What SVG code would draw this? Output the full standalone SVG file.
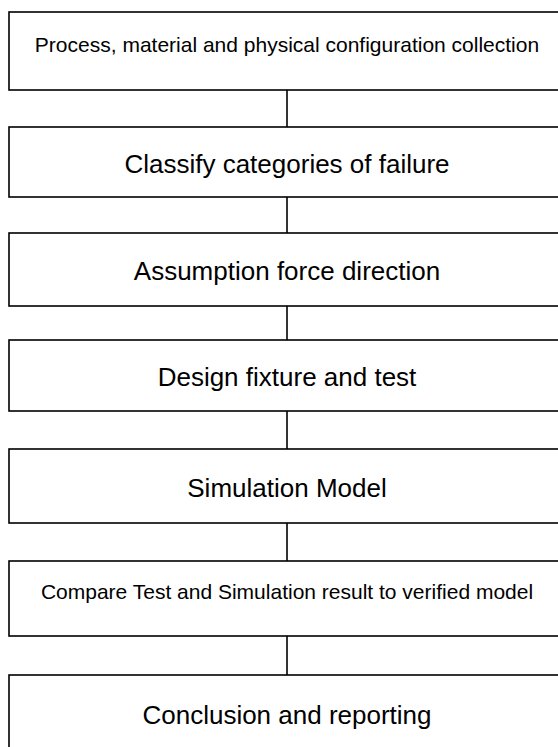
<svg xmlns="http://www.w3.org/2000/svg" width="558" height="747" viewBox="0 0 558 747">
<style>
.box{fill:#fff;stroke:#000;stroke-width:1.6}
.t{font-family:"Liberation Sans",Arial,sans-serif;fill:#000;text-anchor:middle}
.s{font-size:21px}
.l{font-size:26px}
.c{stroke:#000;stroke-width:1.6;fill:none}
</style>
<rect width="558" height="747" fill="#fff"/>
<g id="connectors">
<line class="c" x1="287" y1="90" x2="287" y2="127"/>
<line class="c" x1="287" y1="197" x2="287" y2="233"/>
<line class="c" x1="287" y1="306" x2="287" y2="340"/>
<line class="c" x1="287" y1="411" x2="287" y2="449"/>
<line class="c" x1="287" y1="523" x2="287" y2="561"/>
<line class="c" x1="287" y1="636" x2="287" y2="675"/>
</g>
<g id="n1"><rect class="box" x="9" y="12" width="560" height="78"/><text class="t s" x="287" y="52">Process, material and physical configuration collection</text></g>
<g id="n2"><rect class="box" x="9" y="127" width="560" height="70"/><text class="t l" x="287" y="173">Classify categories of failure</text></g>
<g id="n3"><rect class="box" x="9" y="233" width="560" height="73"/><text class="t l" x="287" y="280">Assumption force direction</text></g>
<g id="n4"><rect class="box" x="9" y="340" width="560" height="71"/><text class="t l" x="287" y="386">Design fixture and test</text></g>
<g id="n5"><rect class="box" x="9" y="449" width="560" height="74"/><text class="t l" x="287" y="497">Simulation Model</text></g>
<g id="n6"><rect class="box" x="9" y="561" width="560" height="75"/><text class="t s" x="287" y="599">Compare Test and Simulation result to verified model</text></g>
<g id="n7"><rect class="box" x="9" y="675" width="560" height="80"/><text class="t l" x="287" y="724">Conclusion and reporting</text></g>
</svg>
